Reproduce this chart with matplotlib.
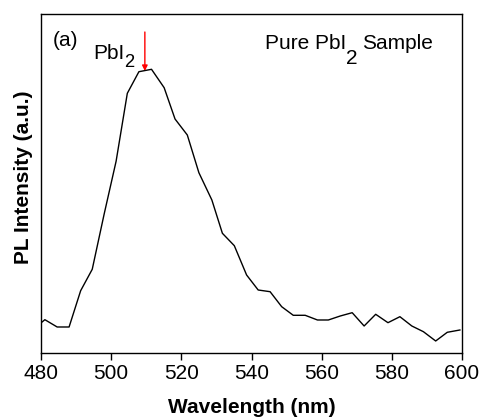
import matplotlib
matplotlib.use("Agg")
import matplotlib.pyplot as plt
from matplotlib.transforms import offset_copy

plt.rcParams["font.family"] = ["Liberation Sans", "DejaVu Sans"]

# =========================
# Data
# =========================
wavelength = [
    477.7, 481.1, 484.6, 488.0, 491.3, 494.6, 498.0, 501.4, 504.6, 507.9,
    511.5, 515.1, 518.2, 521.7, 525.0, 528.7, 531.7, 535.1, 538.6, 541.9,
    545.3, 548.6, 551.9, 555.3, 558.8, 561.9, 565.3, 568.7, 572.1, 575.4,
    578.9, 582.3, 585.7, 589.0, 592.5, 595.8, 599.4,
]
intensity = [
    23.5, 33.3, 26.0, 26.0, 62.3, 83.7, 139.0, 191.7, 259.7, 281.3,
    283.7, 265.3, 234.0, 218.0, 180.3, 153.0, 119.7, 107.3, 78.0, 63.0,
    61.3, 46.3, 37.7, 37.7, 33.0, 33.0, 37.0, 40.3, 27.0, 38.7,
    30.3, 36.3, 27.0, 21.3, 12.0, 20.7, 23.0,
]
x_ticks = [480, 500, 520, 540, 560, 580, 600]
peak_wl = 509.6

FS = 15

# =========================
# Plot
# =========================
fig = plt.figure(figsize=(4.82, 4.17), dpi=100)
ax = fig.add_axes([0.0851, 0.1535, 0.8734, 0.8129])

ax.plot(wavelength, intensity, color="black", lw=1.0)

ax.set_xlim(480, 600)
ax.set_ylim(0, 339)
ax.set_xticks(x_ticks)
ax.set_yticks([])
ax.tick_params(axis="x", direction="out", length=5, width=1, labelsize=FS, pad=3)

for sp in ax.spines.values():
    sp.set_linewidth(1.0)

fig.text(0.522, 0.01, "Wavelength (nm)", fontsize=FS, fontweight="bold",
         ha="center", va="baseline")
fig.text(0.048, 0.575, "PL Intensity (a.u.)", fontsize=FS, fontweight="bold",
         ha="center", va="center", rotation=90)

ax.text(0.028, 0.923, "(a)", transform=ax.transAxes, fontsize=FS, va="center", ha="left")

renderer = fig.canvas.get_renderer()


def draw_pieces(x, y, pieces, align="left"):
    # pieces: (text, drop in px, size factor); x, y = baseline start in axes coords
    widths = []
    for txt, drop, k in pieces:
        t = ax.text(0, 0, txt, fontsize=FS * k)
        widths.append(t.get_window_extent(renderer).width)
        t.remove()
    total = sum(widths)
    dx = -total if align == "right" else 0
    for (txt, drop, k), w in zip(pieces, widths):
        tr = offset_copy(ax.transAxes, fig=fig, x=dx, y=-drop, units="dots")
        ax.text(x, y, txt, transform=tr, fontsize=FS * k, va="baseline", ha="left")
        dx += w


draw_pieces(0.123, 0.868, [("PbI", 0, 1.0), ("2", 8, 0.88)])
draw_pieces(0.931, 0.896, [("Pure PbI", 0, 1.0), ("2", 15, 1.0), ("\u2009", 0, 1.0),
                           ("Sample", 0, 1.0)], align="right")

ax.annotate("", xy=(peak_wl, 282), xytext=(peak_wl, 321),
            arrowprops=dict(arrowstyle="-|>", color="red", lw=1.0,
                            mutation_scale=8, shrinkA=0, shrinkB=0))

fig.savefig("out.png", dpi=100)
